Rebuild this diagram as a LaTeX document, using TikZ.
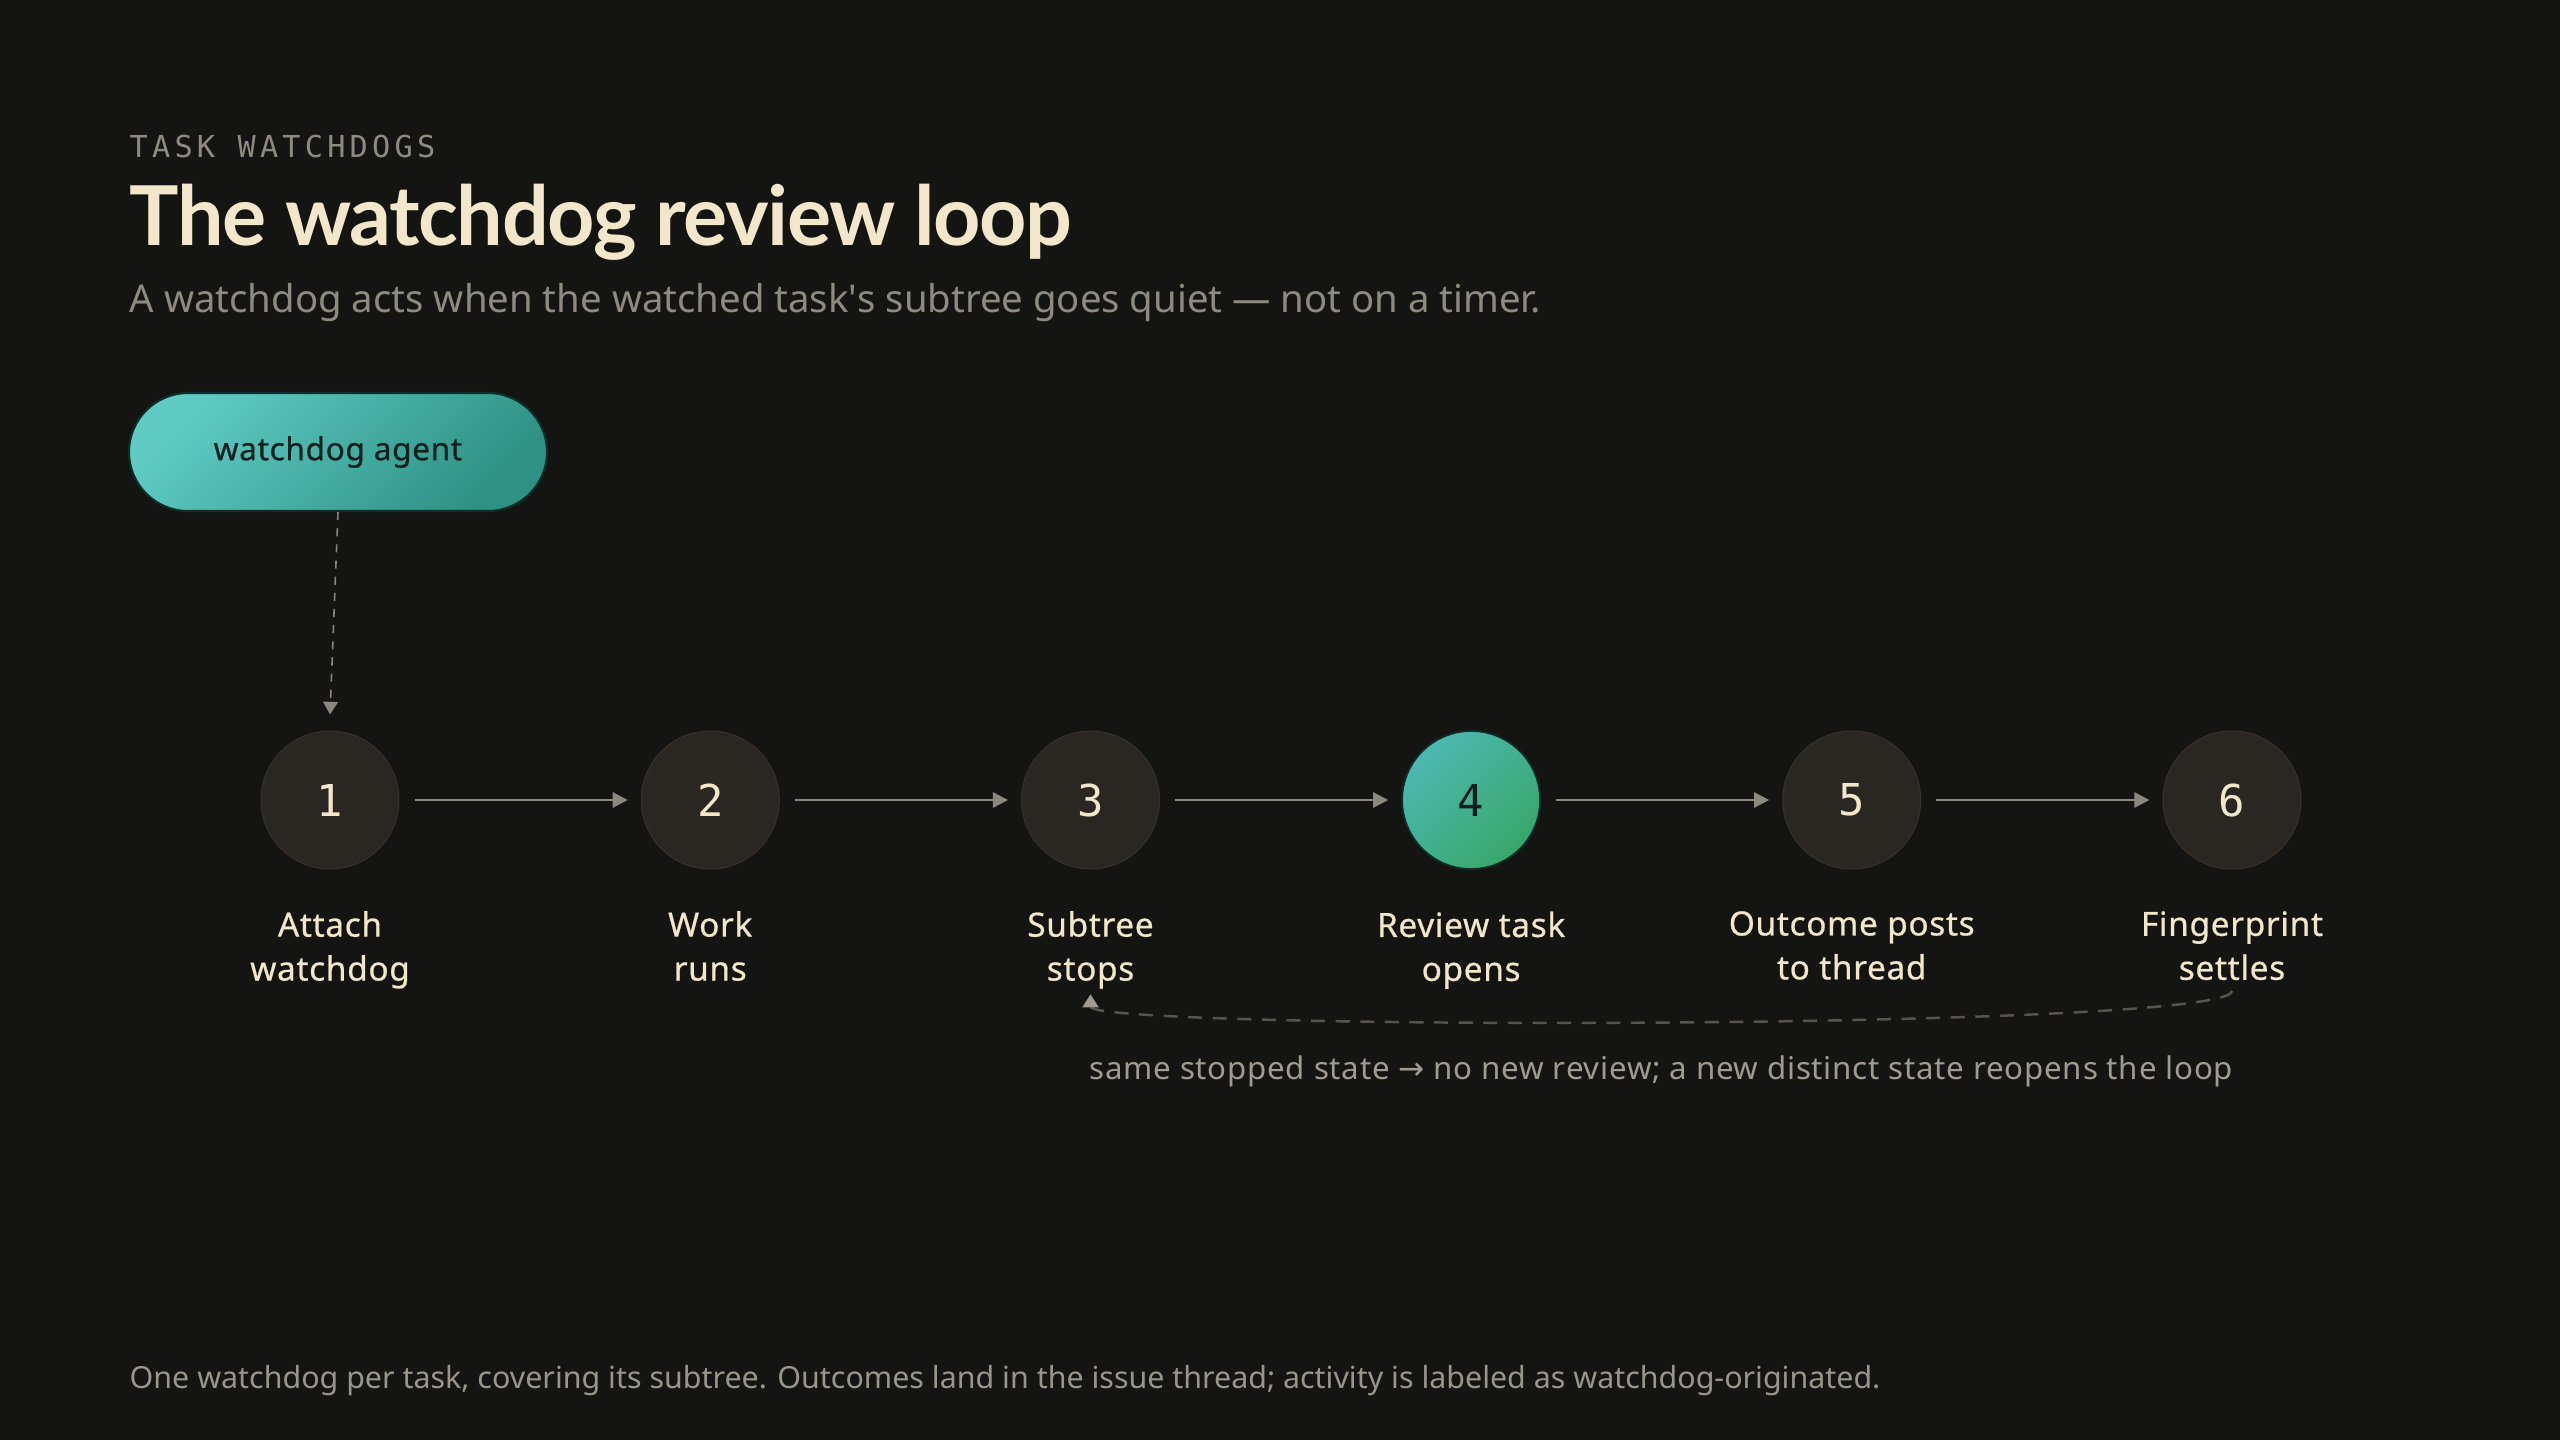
\documentclass[tikz,border=0pt]{standalone}
\usepackage{fontspec}
\setmainfont{Noto Sans}
\newfontfamily\eyebrowfont{DejaVu Sans Mono}[LetterSpace=14]
\newfontfamily\digitfont{DejaVu Sans Mono}
\newfontfamily\titlefont{Lato}[LetterSpace=-1.7]
\newfontfamily\labelfont{Noto Sans}[FakeBold=0.6,LetterSpace=2]
\newfontfamily\notefont{Noto Sans}[LetterSpace=2.4]
\newfontfamily\arrowfont{DejaVu Sans}
\usetikzlibrary{positioning,calc,arrows.meta}
\definecolor{bgdark}{HTML}{141412}
\definecolor{cream}{HTML}{F3E7CB}
\definecolor{muted}{HTML}{8E8A80}
\definecolor{stepfill}{HTML}{2A2723}
\definecolor{stepedge}{HTML}{36312C}
\definecolor{arrowgray}{HTML}{8B887F}
\definecolor{loopgray}{HTML}{57544E}
\definecolor{notegray}{HTML}{A09B90}
\definecolor{footgray}{HTML}{9A958A}
\definecolor{agentA}{HTML}{5FCBC3}
\definecolor{agentB}{HTML}{2E9184}
\definecolor{agentedge}{HTML}{0E2E2A}
\definecolor{agentink}{HTML}{10201E}
\definecolor{reviewA}{HTML}{4DB8B2}
\definecolor{reviewB}{HTML}{38A76A}
\tikzset{stepnode/.style={circle,draw=stepedge,line width=0.3pt,fill=stepfill,minimum size=1.38cm,inner sep=0,text=cream,font=\digitfont\fontsize{12.5}{14}\selectfont},
         reviewnode/.style={stepnode,draw=agentedge,line width=0.5pt,top color=reviewA,bottom color=reviewB,shading angle=45,text=agentink},
         stepname/.style={align=center,inner sep=0,text=cream,font=\labelfont\fontsize{9.5}{12.5}\selectfont},
         agentbox/.style={rounded corners=0.59cm,minimum width=4.18cm,minimum height=1.18cm,draw=agentedge,line width=0.6pt,top color=agentA,bottom color=agentB,shading angle=45,text=agentink,font=\labelfont\fontsize{9}{10}\selectfont},
         line/.style={draw=arrowgray,line width=0.75pt,-{Triangle[length=4.3pt,width=4.3pt]},shorten <=0.15cm,shorten >=0.13cm}
}
\tikzstyle{agentlink} = [draw=arrowgray,line width=0.45pt,dash pattern=on 2.3pt off 2.3pt,-{Triangle[length=3.6pt,width=4.2pt]}]
\tikzstyle{loopback} = [draw=loopgray,line width=0.7pt,dash pattern=on 4pt off 3pt,-{Triangle[length=3.7pt,width=4.5pt,color=notegray]}]

\begin{document}
\begin{tikzpicture}

\fill[bgdark] (0,0) rectangle (25.6,-14.4);

\node[anchor=base west,inner sep=0,text=muted,font=\eyebrowfont\fontsize{8.6}{10}\selectfont] (eyebrow) at (1.29,-1.57) {TASK WATCHDOGS};
\node[anchor=base west,inner sep=0,text=cream,font=\titlefont\bfseries\fontsize{23.5}{28}\selectfont] (title) at (1.29,-2.45) {The watchdog review loop};
\node[anchor=base west,inner sep=0,text=muted,font=\fontsize{10.9}{13}\selectfont] (subtitle) at (1.29,-3.12) {A watchdog acts when the watched task\textquotesingle s subtree goes quiet — not on a timer.};

\node[agentbox] (agent) at (3.38,-4.52) {watchdog agent};

\node[stepnode] (s1) at (3.30,-8.00) {1};
\node[stepnode,right=2.412cm of s1] (s2) {2};
\node[stepnode,right=2.412cm of s2] (s3) {3};
\node[reviewnode,right=2.412cm of s3] (s4) {4};
\node[stepnode,right=2.412cm of s4] (s5) {5};
\node[stepnode,right=2.412cm of s5] (s6) {6};

\node[stepname,below=0.41cm of s1] (l1) {Attach\\watchdog};
\node[stepname,below=0.41cm of s2] (l2) {Work\\runs};
\node[stepname,below=0.41cm of s3] (l3) {Subtree\\stops};
\node[stepname,below=0.41cm of s4] (l4) {Review task\\opens};
\node[stepname,below=0.41cm of s5] (l5) {Outcome posts\\to thread};
\node[stepname,below=0.41cm of s6] (l6) {Fingerprint\\settles};

\node[anchor=base,inner sep=0,text=notegray,font=\notefont\fontsize{8.9}{10}\selectfont] (note) at ($(s3)!0.5!(s6)+(0,-2.79)$) {same stopped state {\arrowfont →} no new review; a new distinct state reopens the loop};

\node[anchor=base west,inner sep=0,text=footgray,font=\fontsize{8.65}{10}\selectfont] (footer) at (1.29,-13.88) {One watchdog per task, covering its subtree. Outcomes land in the issue thread; activity is labeled as watchdog-originated.};

\coordinate (attach) at ($(s1.north)+(0,0.16)$);
\coordinate (loopstart) at ($(l6.south)+(0,-0.1)$);
\coordinate (loopend) at ($(l3.south)+(0,-0.05)$);

\draw[agentlink] (agent.south) -- (attach);
\draw[line] (s1) -- (s2);
\draw[line] (s2) -- (s3);
\draw[line] (s3) -- (s4);
\draw[line] (s4) -- (s5);
\draw[line] (s5) -- (s6);
\draw[loopback] (loopstart) .. controls +(0,-0.4) and +(0,-0.36) .. (loopend);

\end{tikzpicture}
\end{document}
